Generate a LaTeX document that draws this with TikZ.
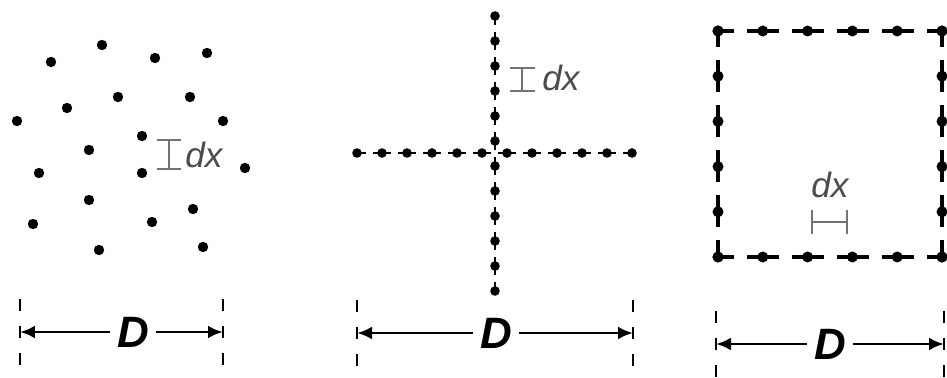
\documentclass[tikz,border=0pt]{standalone}
\usepackage{fontspec}
\setmainfont{Liberation Sans}
\usetikzlibrary{arrows.meta}

\begin{document}
\begin{tikzpicture}[
  x=0.02cm, y=-0.02cm,
  dot/.style={fill=black},
  gridline/.style={line width=0.05cm, dash pattern=on 0.36cm off 0.14cm, dash phase=0.18cm},
  edgeline/.style={line width=0.065cm, dash pattern=on 0.64cm off 0.26cm, dash phase=0.32cm},
  tick/.style={line width=0.045cm, dash pattern=on 0.24cm off 0.3cm},
  dim/.style={-{Latex[length=0.3cm, width=0.26cm]}, line width=0.06cm},
  gap/.style={{Bar[width=0.5cm]}-{Bar[width=0.5cm]}, line width=0.035cm, black!55},
  dlabel/.style={font=\fontsize{25}{25}\selectfont\bfseries\itshape, inner sep=4pt},
  dxlabel/.style={font=\fontsize{20}{20}\selectfont\itshape, text=black!70, inner sep=0pt}
]
\useasboundingbox (0,0) rectangle (947,378);

% random points
\foreach \x/\y in {51/62,102/45,155/58,207/53,67/108,118/97,190/97,17/121,223/121,
  142/136,89/150,39/173,142/173,245/168,89/200,193/209,33/224,152/222,99/250,203/247}
  \fill[dot] (\x,\y) circle[radius=5.2];

% cross
\draw[gridline] (357,153) -- (632,153);
\draw[gridline] (495,16) -- (495,291);
\foreach \i in {0,...,11} {
  \fill[dot] (357+25*\i,153) circle[radius=4.8];
  \fill[dot] (495,16+25*\i) circle[radius=4.8];
}

% square
\draw[edgeline] (718,31) -- (942,31);
\draw[edgeline] (718,257) -- (942,257);
\draw[edgeline] (718,31) -- (718,257);
\draw[edgeline] (942,31) -- (942,257);
\foreach \i in {0,...,5} {
  \fill[dot] (718+44.8*\i,31) circle[radius=5.5];
  \fill[dot] (718+44.8*\i,257) circle[radius=5.5];
  \fill[dot] (718,31+45.2*\i) circle[radius=5.5];
  \fill[dot] (942,31+45.2*\i) circle[radius=5.5];
}

% spacing marks
\coordinate (gla) at (169,139);
\coordinate (glb) at (169,170);
\coordinate (gma) at (522,67);
\coordinate (gmb) at (522,92);
\coordinate (gra) at (811,222);
\coordinate (grb) at (848,222);
\draw[gap] (gla) -- (glb);
\draw[gap] (gma) -- (gmb);
\draw[gap] (gra) -- (grb);
\node[dxlabel] (dxl) at (204,155) {dx};
\node[dxlabel] (dxm) at (561,78) {dx};
\node[dxlabel] (dxr) at (830,185) {dx};

% widths
\node[dlabel] (dl) at (133,332) {D};
\node[dlabel] (dm) at (496,333) {D};
\node[dlabel] (dr) at (830,344) {D};
\coordinate (tla) at (20,332);
\coordinate (tlb) at (223,332);
\coordinate (tma) at (357,333);
\coordinate (tmb) at (633,333);
\coordinate (tra) at (716,344);
\coordinate (trb) at (944,344);
\foreach \t in {tla,tlb,tma,tmb,tra,trb}
  \draw[tick] (\t) +(0,-33) -- +(0,33);
\draw[dim] (dl) -- (tla);
\draw[dim] (dl) -- (tlb);
\draw[dim] (dm) -- (tma);
\draw[dim] (dm) -- (tmb);
\draw[dim] (dr) -- (tra);
\draw[dim] (dr) -- (trb);
\end{tikzpicture}
\end{document}
